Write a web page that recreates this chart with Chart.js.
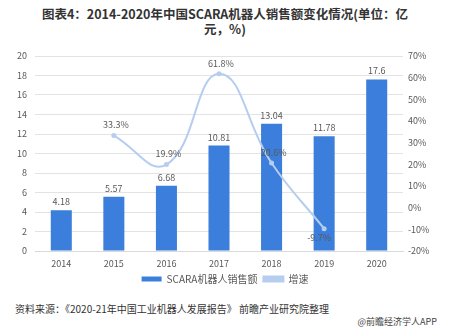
<!DOCTYPE html>
<html lang="zh">
<head>
<meta charset="UTF-8" />
<title>SCARA机器人销售额</title>
<script src="https://cdn.jsdelivr.net/npm/chart.js"></script>
<style>
  body { margin: 0; background: #fff; font-family: "Noto Sans CJK SC", sans-serif; }
  #wrap { position: relative; width: 450px; height: 329px; overflow: hidden; }
  #title { position: absolute; left: 0; top: 6px; width: 450px; text-align: center; font-size: 12.5px; font-weight: bold; color: #333; line-height: 15px; }
  #box { position: absolute; left: 0; top: 40px; width: 450px; height: 254px; }
  #src { position: absolute; left: 15px; top: 301px; font-size: 10px; color: #333; }
  #app { position: absolute; right: 13px; top: 315px; font-size: 9px; color: #444; }
</style>
</head>
<body>
<div id="wrap">
  <div id="title">图表4：2014-2020年中国SCARA机器人销售额变化情况(单位：亿<br>元，%)</div>
  <div id="box"><canvas id="chart"></canvas></div>
  <div id="src">资料来源：《2020-21年中国工业机器人发展报告》 前瞻产业研究院整理</div>
  <div id="app">@前瞻经济学人APP</div>
</div>
<script>
  const years = ['2014', '2015', '2016', '2017', '2018', '2019', '2020'];
  const sales = [4.18, 5.57, 6.68, 10.81, 13.04, 11.78, 17.6];
  const growth = [null, 33.3, 19.9, 61.8, 20.6, -9.7, null];
  const growthLabelBelow = [false, false, false, false, false, true, false];

  const tickFont = { family: 'Noto Sans CJK SC', size: 9, lineHeight: 1 };

  const valueLabels = {
    id: 'valueLabels',
    afterDatasetsDraw(chart) {
      const ctx = chart.ctx;
      ctx.save();
      ctx.font = '9px "Noto Sans CJK SC"';
      ctx.fillStyle = '#595959';
      ctx.textAlign = 'center';
      ctx.textBaseline = 'bottom';
      chart.getDatasetMeta(1).data.forEach((bar, i) => {
        ctx.fillText(String(sales[i]), bar.x, bar.y - 4);
      });
      chart.getDatasetMeta(0).data.forEach((pt, i) => {
        if (growth[i] === null) return;
        const txt = growth[i].toFixed(1) + '%';
        if (growthLabelBelow[i]) {
          ctx.textBaseline = 'top';
          ctx.fillText(txt, pt.x - 5, pt.y + 4);
        } else {
          ctx.textBaseline = 'bottom';
          ctx.fillText(txt, pt.x + 2, pt.y - 6);
        }
      });
      ctx.restore();
    }
  };

  new Chart(document.getElementById('chart'), {
    data: {
      labels: years,
      datasets: [
        {
          type: 'line',
          label: '增速',
          data: growth,
          yAxisID: 'y1',
          borderColor: '#b7cdef',
          backgroundColor: '#b7cdef',
          borderWidth: 2,
          tension: 0.45,
          pointRadius: 2.5,
          pointBackgroundColor: '#b7cdef',
          pointBorderWidth: 0,
          order: 0
        },
        {
          type: 'bar',
          label: 'SCARA机器人销售额',
          data: sales,
          yAxisID: 'y',
          backgroundColor: '#3b7edb',
          barPercentage: 0.4,
          categoryPercentage: 1,
          order: 1
        }
      ]
    },
    options: {
      responsive: true,
      maintainAspectRatio: false,
      animation: false,
      layout: { padding: { top: 16, left: 0, right: 0, bottom: 0 } },
      plugins: {
        tooltip: { enabled: false },
        legend: {
          position: 'bottom',
          reverse: true,
          labels: {
            font: { family: 'Noto Sans CJK SC', size: 10 },
            color: '#595959',
            boxWidth: 20,
            boxHeight: 5,
            padding: 6
          }
        }
      },
      scales: {
        x: {
          grid: { display: false },
          border: { color: '#d9d9d9' },
          ticks: { font: tickFont, color: '#595959', padding: 0 }
        },
        y: {
          position: 'left',
          min: 0, max: 20,
          ticks: { stepSize: 2, font: tickFont, color: '#595959', padding: 8 },
          grid: { color: '#e3e3e3', drawTicks: false },
          border: { display: false },
          afterFit(s) { s.width = 35; }
        },
        y1: {
          position: 'right',
          min: -20, max: 70,
          ticks: { stepSize: 10, font: tickFont, color: '#595959', padding: 5, callback: v => v + '%' },
          grid: { display: false, drawTicks: false },
          border: { display: false },
          afterFit(s) { s.width = 47; }
        }
      }
    },
    plugins: [valueLabels]
  });
</script>
</body>
</html>
